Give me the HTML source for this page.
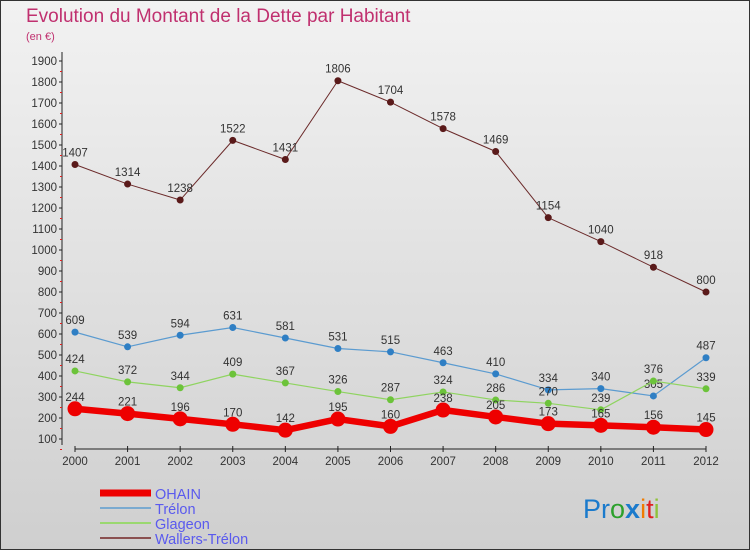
<!DOCTYPE html>
<html><head><meta charset="utf-8"><style>
body{margin:0;width:750px;height:550px;overflow:hidden;font-family:"Liberation Sans",sans-serif}
svg{display:block}
</style></head><body>
<svg id="c" width="750" height="550" viewBox="0 0 750 550">
<defs><linearGradient id="bg" x1="0" y1="0" x2="0" y2="1"><stop offset="0" stop-color="#f2f2f2"/><stop offset="1" stop-color="#cfcfcf"/></linearGradient></defs>
<rect x="0.5" y="0.5" width="749" height="549" fill="url(#bg)" stroke="#333"/>
<text x="26" y="22" font-size="19" fill="#c0306f">Evolution du Montant de la Dette par Habitant</text>
<text x="26" y="40" font-size="11" fill="#c0306f">(en €)</text>
<g id="axes"></g><g id="series"></g><g id="legend"></g>
<text x="583" y="518" font-size="27" fill="#1a7acc">Pr<tspan fill="#2ca02c">o</tspan><tspan fill="#1a7acc" font-weight="bold">x</tspan><tspan fill="#f07b00">i</tspan><tspan fill="#e02020">t</tspan><tspan fill="#8fc23a">i</tspan></text>
</svg>
<script>
const years=[2000,2001,2002,2003,2004,2005,2006,2007,2008,2009,2010,2011,2012];
const ohain=[244,221,196,170,142,195,160,238,205,173,165,156,145];
const trelon=[609,539,594,631,581,531,515,463,410,334,340,305,487];
const glageon=[424,372,344,409,367,326,287,324,286,270,239,376,339];
const wallers=[1407,1314,1238,1522,1431,1806,1704,1578,1469,1154,1040,918,800];
const yTicks=[100,200,300,400,500,600,700,800,900,1000,1100,1200,1300,1400,1500,1600,1700,1800,1900];
const NS="http://www.w3.org/2000/svg";
const xS=i=>75+i*(706-75)/12;
const yS=v=>439-(v-100)*(439-61)/1800;
function mk(t,a,p){const e=document.createElementNS(NS,t);for(const k in a)e.setAttribute(k,a[k]);p.appendChild(e);return e;}
const ax=document.getElementById('axes');
let l=mk('line',{x1:62,y1:52,x2:62,y2:445,stroke:'#222'},ax);


l=mk('line',{x1:75,y1:449,x2:706,y2:449,stroke:'#222'},ax);


yTicks.forEach(v=>{const y=yS(v);
mk('line',{x1:59,y1:y,x2:62,y2:y,stroke:'#222'},ax);
mk('line',{x1:60,y1:y+10.5,x2:62,y2:y+10.5,stroke:'#e02020'},ax);
const t=mk('text',{x:57,y:y+4,'font-size':11.5,'text-anchor':'end',fill:'#333'},ax);t.textContent=v;

});
years.forEach((yr,i)=>{const x=xS(i);
mk('line',{x1:x,y1:446,x2:x,y2:452,stroke:'#222'},ax);
const t=mk('text',{x:x,y:465,'font-size':11.5,'text-anchor':'middle',fill:'#333'},ax);t.textContent=yr;

});
const sg=document.getElementById('series');
const defs=[[wallers,'#6b2a2a','#5a1a1a',1,3.5,'wallers-trelon'],[trelon,'#5b9bd0','#2f7fc4',1.2,3.5,'trelon'],[glageon,'#8fd460','#6cc33a',1.2,3.5,'glageon'],[ohain,'#ee0000','#ee0000',6.5,7.5,'ohain']];
defs.forEach(([d,c,dc,w,r,n])=>{
const g=mk('g',{},sg);


const p=mk('polyline',{points:d.map((v,i)=>xS(i)+','+yS(v)).join(' '),fill:'none',stroke:c,'stroke-width':w,'stroke-linejoin':'round'},g);


d.forEach((v,i)=>{const ci=mk('circle',{cx:xS(i),cy:yS(v),r:r,fill:dc},g);


const t=mk('text',{x:xS(i),y:yS(v)-8,'font-size':11.5,'text-anchor':'middle',fill:'#333'},g);t.textContent=v;

});});
const lg=document.getElementById('legend');
[['OHAIN','#ee0000',7],['Trélon','#7aaad0',2],['Glageon','#9ad870',2],['Wallers-Trélon','#8a5050',2]].forEach(([n,c,w],i)=>{
const y=493+i*15;
const g=mk('g',{},lg);


mk('line',{x1:100,y1:y,x2:151,y2:y,stroke:c,'stroke-width':w},g);
const t=mk('text',{x:155,y:y+6,'font-size':14.5,fill:'#5a5aee'},g);t.textContent=n;});
</script>
</body></html>
